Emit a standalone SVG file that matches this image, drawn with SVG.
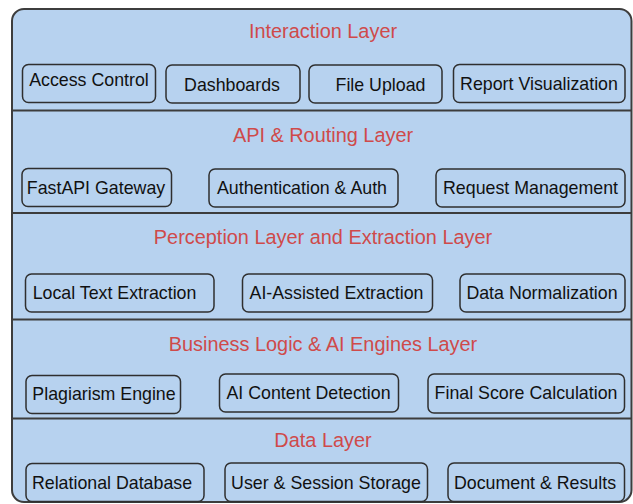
<svg xmlns="http://www.w3.org/2000/svg" width="633" height="504" viewBox="0 0 633 504">
  <style>
    .frame { fill: #b7d2ef; stroke: #3d3d3d; stroke-width: 2; }
    .divider { stroke: #3d3d3d; stroke-width: 2; fill: none; }
    .node rect { fill: #b7d2ef; stroke: #2f2f2f; stroke-width: 1.5; }
    .node text { font-family: "Liberation Sans", Arial, sans-serif; font-size: 17.8px; fill: #111; text-anchor: middle; }
    .title { font-family: "Liberation Sans", Arial, sans-serif; font-size: 19.9px; fill: #cf4a4a; text-anchor: middle; }
  </style>
  <rect class="frame" x="12" y="9" width="619.5" height="493" rx="12"/>
  <g id="dividers">
    <line class="divider" x1="12" y1="110.5" x2="631.5" y2="110.5"/>
    <line class="divider" x1="12" y1="213" x2="631.5" y2="213"/>
    <line class="divider" x1="12" y1="319.5" x2="631.5" y2="319.5"/>
    <line class="divider" x1="12" y1="418.5" x2="631.5" y2="418.5"/>
  </g>
  <g id="connectors"/>

  <g id="layer-interaction">
    <text class="title" x="323" y="37.5">Interaction Layer</text>
    <g id="access-control" class="node"><rect x="22.5" y="64.5" width="133" height="38" rx="6"/><text x="89" y="86">Access Control</text></g>
    <g id="dashboards" class="node"><rect x="166" y="65" width="134" height="38" rx="6"/><text x="232" y="90.5">Dashboards</text></g>
    <g id="file-upload" class="node"><rect x="309" y="65" width="133" height="38" rx="6"/><text x="380.5" y="90.5">File Upload</text></g>
    <g id="report-visualization" class="node"><rect x="453.5" y="64.5" width="171.5" height="38" rx="6"/><text x="539" y="89.5">Report Visualization</text></g>
  </g>

  <g id="layer-api">
    <text class="title" x="323" y="141.5">API &amp; Routing Layer</text>
    <g id="fastapi-gateway" class="node"><rect x="22" y="168.5" width="149.5" height="38" rx="6"/><text x="96" y="193.5">FastAPI Gateway</text></g>
    <g id="authentication" class="node"><rect x="209" y="169" width="189" height="38" rx="6"/><text x="302" y="193.5">Authentication &amp; Auth</text></g>
    <g id="request-management" class="node"><rect x="436" y="169" width="189" height="38" rx="6"/><text x="530.5" y="193.5">Request Management</text></g>
  </g>

  <g id="layer-perception">
    <text class="title" x="323" y="244">Perception Layer and Extraction Layer</text>
    <g id="local-text-extraction" class="node"><rect x="25.5" y="274" width="188.5" height="38" rx="6"/><text x="114.5" y="299">Local Text Extraction</text></g>
    <g id="ai-assisted-extraction" class="node"><rect x="242.5" y="274" width="190" height="38" rx="6"/><text x="336.5" y="299">AI-Assisted Extraction</text></g>
    <g id="data-normalization" class="node"><rect x="460" y="274" width="165" height="38" rx="6"/><text x="542" y="299">Data Normalization</text></g>
  </g>

  <g id="layer-business">
    <text class="title" x="323" y="350.5">Business Logic &amp; AI Engines Layer</text>
    <g id="plagiarism-engine" class="node"><rect x="26" y="375.5" width="154.5" height="38" rx="6"/><text x="104" y="400">Plagiarism Engine</text></g>
    <g id="ai-content-detection" class="node"><rect x="219.5" y="374" width="179" height="38" rx="6"/><text x="308.5" y="399">AI Content Detection</text></g>
    <g id="final-score-calculation" class="node"><rect x="428" y="374" width="196.5" height="39" rx="6"/><text x="526" y="399">Final Score Calculation</text></g>
  </g>

  <g id="layer-data">
    <text class="title" x="323" y="447">Data Layer</text>
    <g id="relational-database" class="node"><rect x="26" y="463.5" width="178" height="38" rx="6"/><text x="112" y="489">Relational Database</text></g>
    <g id="user-session-storage" class="node"><rect x="225" y="463" width="202.5" height="38.5" rx="6"/><text x="326" y="489">User &amp; Session Storage</text></g>
    <g id="document-results" class="node"><rect x="448" y="463" width="176.5" height="38.5" rx="6"/><text x="535" y="488.5">Document &amp; Results</text></g>
  </g>
</svg>
